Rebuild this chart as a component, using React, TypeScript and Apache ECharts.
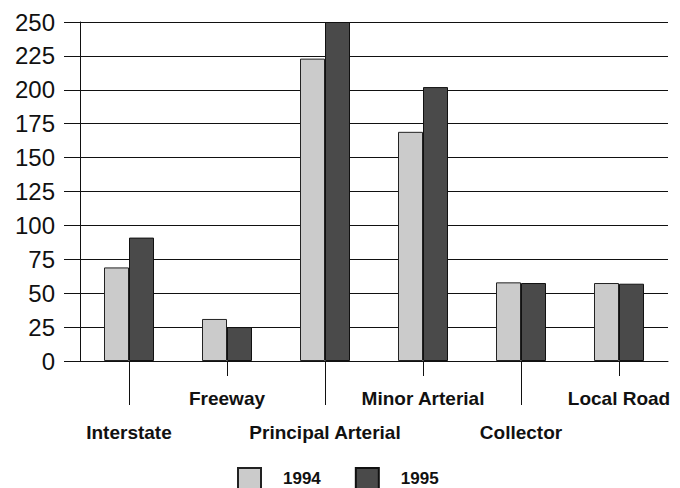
import React, { useEffect, useRef } from "react";
import * as echarts from "echarts";

const categories = ["Interstate", "Freeway", "Principal Arterial", "Minor Arterial", "Collector", "Local Road"];
const values1994 = [69, 31, 223, 169, 58, 57.5];
const values1995 = [91, 25, 250, 202, 57.5, 57];
const seriesNames = ["1994", "1995"];

export default function App() {
  const ref = useRef<HTMLDivElement>(null);
  useEffect(() => {
    if (!ref.current) return;
    const chart = echarts.init(ref.current, null, { renderer: "svg" });
    const font = "'Liberation Sans', Arial, sans-serif";
    chart.setOption({
      animation: false,
      backgroundColor: "#ffffff",
      grid: { left: 80, right: 12, top: 22, bottom: 127, containLabel: false },
      legend: {
        data: seriesNames,
        top: 462,
        left: 232,
        icon: "rect",
        itemWidth: 23,
        itemHeight: 21,
        itemGap: 34,
        textStyle: { fontFamily: font, fontSize: 17, fontWeight: "bold", color: "#111", padding: [2, 0, 0, 17] },
      },
      xAxis: [
        {
          type: "category",
          data: categories,
          axisLine: { show: true, lineStyle: { color: "#111", width: 1 } },
          axisTick: { show: true, alignWithLabel: true, length: 15, lineStyle: { color: "#111" } },
          axisLabel: {
            interval: 0,
            margin: 20,
            fontFamily: font,
            fontSize: 19,
            fontWeight: "bold",
            color: "#111",
            lineHeight: 34,
            formatter: (v: string, i: number) => (i % 2 === 0 ? "\n" + v : v),
          },
        },
        {
          type: "category",
          data: categories,
          position: "bottom",
          axisLine: { show: false },
          axisTick: {
            show: true,
            alignWithLabel: true,
            length: 44,
            interval: (i: number) => i % 2 === 0,
            lineStyle: { color: "#111" },
          },
          axisLabel: { show: false },
          splitLine: { show: false },
        },
      ],
      yAxis: {
        type: "value",
        min: 0,
        max: 250,
        interval: 25,
        axisLine: { show: true, lineStyle: { color: "#111", width: 1 } },
        axisTick: { show: true, length: 16, lineStyle: { color: "#111" } },
        splitLine: { show: true, lineStyle: { color: "#111", width: 1 } },
        axisLabel: { margin: 25, fontFamily: font, fontSize: 24, color: "#111" },
      },
      series: [
        {
          name: seriesNames[0],
          type: "bar",
          data: values1994,
          barWidth: 25,
          barGap: "0%",
          itemStyle: { color: "#cbcbcb", borderColor: "#222", borderWidth: 1 },
        },
        {
          name: seriesNames[1],
          type: "bar",
          data: values1995,
          barWidth: 25,
          barGap: "0%",
          itemStyle: { color: "#4a4a4a", borderColor: "#111", borderWidth: 1 },
        },
      ],
    });
    return () => chart.dispose();
  }, []);
  return <div ref={ref} style={{ width: 680, height: 488, position: "fixed", left: 0, top: 0 }} />;
}
